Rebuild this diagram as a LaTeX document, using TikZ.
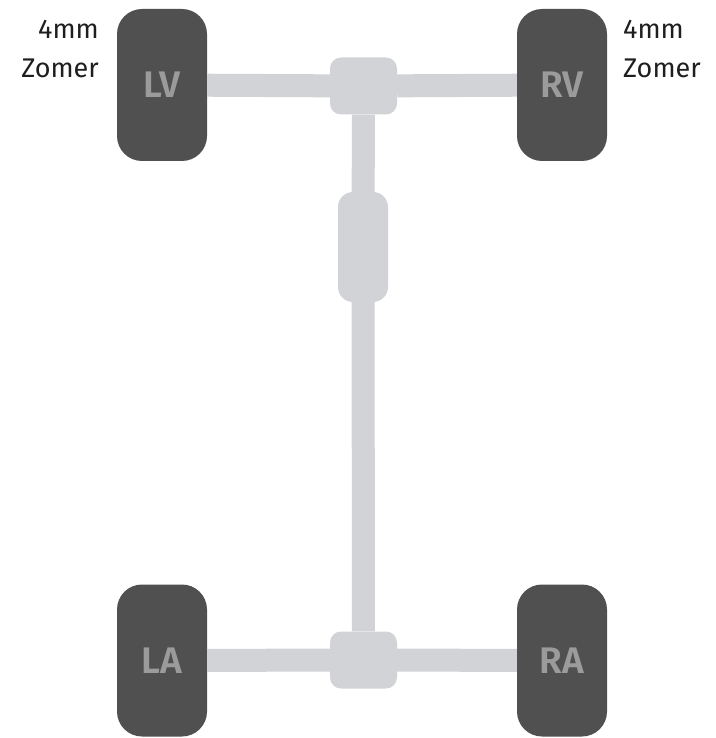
\documentclass[tikz,border=0pt]{standalone}
\usepackage{fontspec}
\setmainfont{Fira Sans}
\newfontfamily\tyrefont{Fira Sans SemiBold}
\usepackage{xcolor}
\usepackage{tikz}
\usetikzlibrary{positioning}
\definecolor{tyre}{RGB}{80, 80, 80}
\definecolor{tyretext}{RGB}{155, 155, 155}
\definecolor{shaft}{RGB}{210, 211, 215}
\definecolor{dark}{RGB}{30, 30, 30}

\begin{document}
\begin{tikzpicture}[x=1pt, y=-1pt,
        tyre/.style={rectangle, fill=tyre, text=tyretext, minimum width=90pt, minimum height=152pt, rounded corners=25pt, font=\tyrefont\fontsize{37}{40}\selectfont},
        diff/.style={rectangle, fill=shaft, minimum width=67pt, minimum height=57pt, rounded corners=11pt},
        axle/.style={shaft, line width=23pt},
        note/.style={text=dark, inner sep=0pt, align=#1, font=\fontsize{27}{39}\selectfont}
    ]
        \useasboundingbox (0,0) rectangle (715,738);

        \node (fdiff) [diff] at (363.5,86) {};
        \node (rdiff) [diff] at (363.5,660) {};
        \node (joint) [diff, minimum width=50pt, minimum height=110pt, rounded corners=15pt] at (363,247) {};

        \draw[axle] (fdiff) -- (joint);
        \draw[axle] (joint) -- (rdiff);

        \node (lv) [tyre] at (162,85) {LV};
        \node (rv) [tyre] at (562,85) {RV};
        \node (la) [tyre] at (162,660.5) {LA};
        \node (ra) [tyre] at (562,660.5) {RA};

        \draw[axle] (lv) -- (fdiff);
        \draw[axle] (fdiff) -- (rv);
        \draw[axle] (la) -- (rdiff);
        \draw[axle] (rdiff) -- (ra);

        \node (lvnote) [note=right, anchor=north east] at (99,20) {4mm\\Zomer};
        \node (rvnote) [note=left, anchor=north west] at (623,20) {4mm\\Zomer};
    \end{tikzpicture}
\end{document}
